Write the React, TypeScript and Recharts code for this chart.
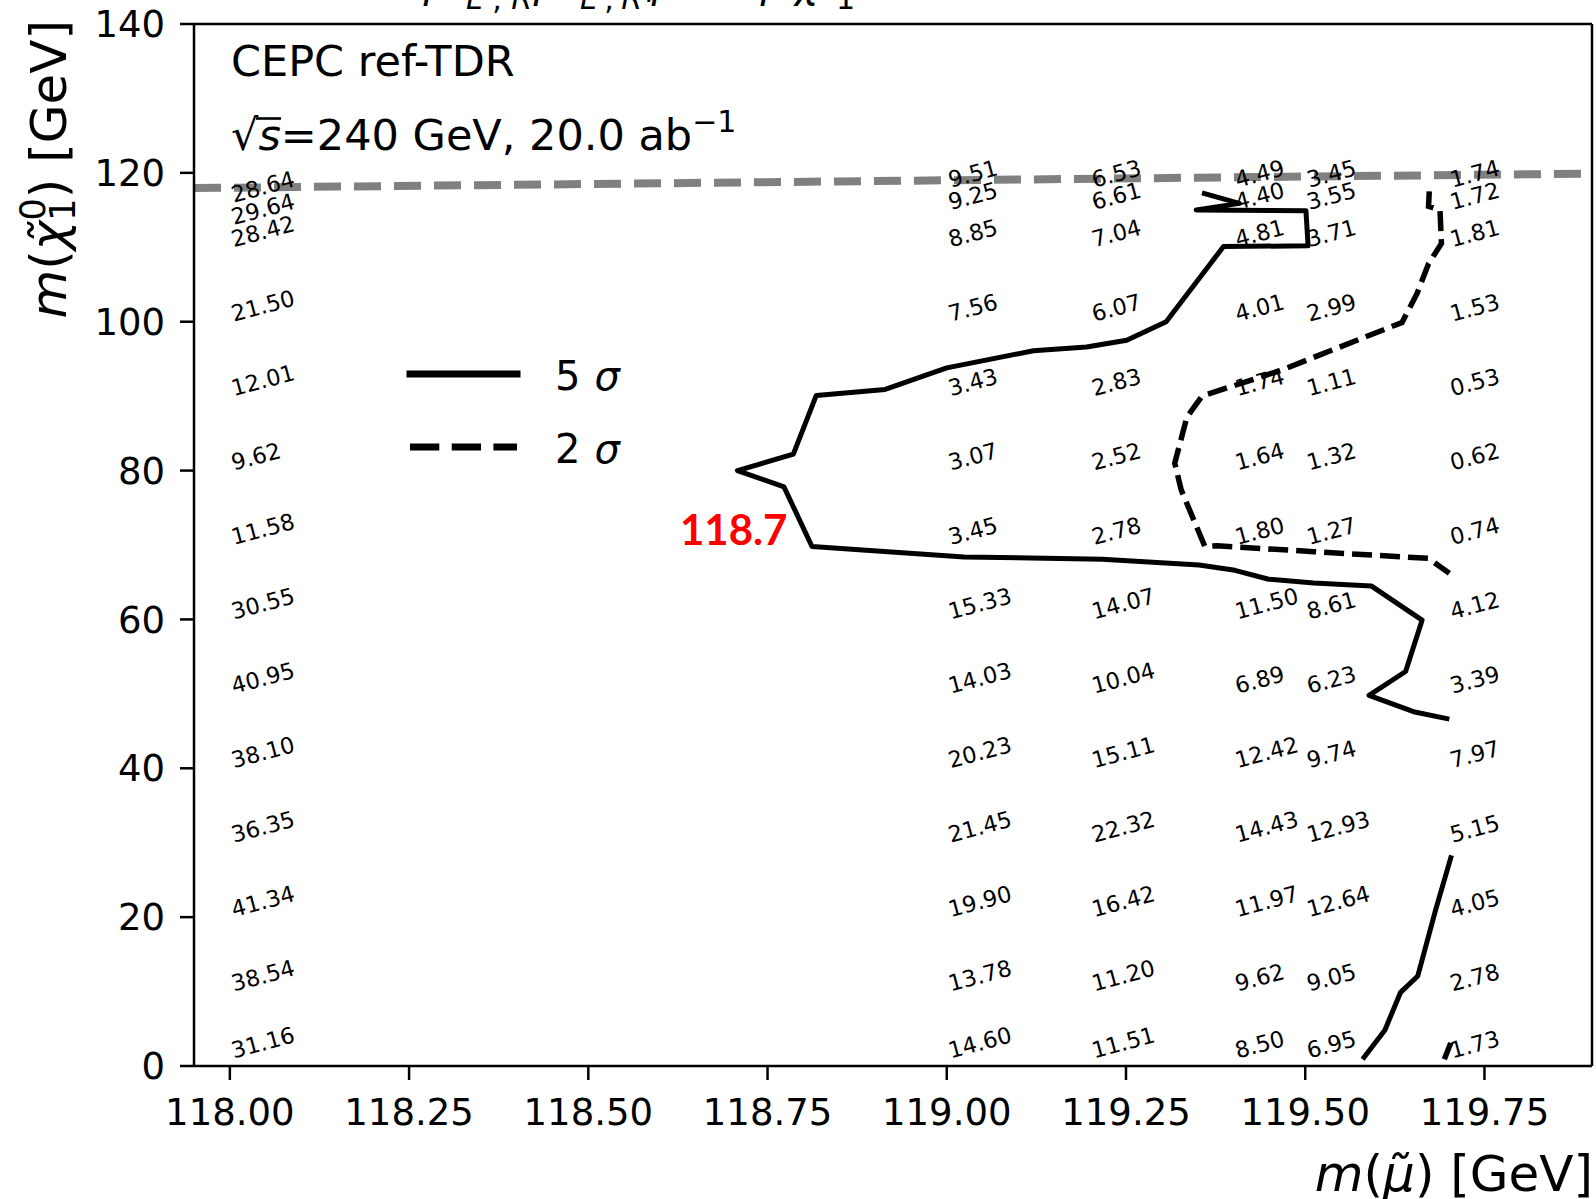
import {
  Customized,
  Legend,
  ReferenceLine,
  Scatter,
  ScatterChart,
  XAxis,
  YAxis,
} from "recharts";

const FONT = "'DejaVu Sans', sans-serif";

// smuon mass columns of the scan grid [GeV]
const M_SMUON = [118.0, 119.0, 119.2, 119.4, 119.5, 119.7];
// neutralino mass rows [GeV], bottom first; the 118 GeV column stops below the diagonal
const M_LSP = [1, 10, 20, 30, 40, 50, 60, 70, 80, 90, 100, 110, 115, 118];
const M_LSP_118 = [1, 10, 20, 30, 40, 50, 60, 70, 80, 90, 100, 110, 113, 116];

// expected significance per grid point, same row order as above
const SIG_1180 = [31.16, 38.54, 41.34, 36.35, 38.1, 40.95, 30.55, 11.58, 9.62, 12.01, 21.5, 28.42, 29.64, 28.64];
const SIG_1190 = [14.6, 13.78, 19.9, 21.45, 20.23, 14.03, 15.33, 3.45, 3.07, 3.43, 7.56, 8.85, 9.25, 9.51];
const SIG_1192 = [11.51, 11.2, 16.42, 22.32, 15.11, 10.04, 14.07, 2.78, 2.52, 2.83, 6.07, 7.04, 6.61, 6.53];
const SIG_1194 = [8.5, 9.62, 11.97, 14.43, 12.42, 6.89, 11.5, 1.8, 1.64, 1.74, 4.01, 4.81, 4.4, 4.49];
const SIG_1195 = [6.95, 9.05, 12.64, 12.93, 9.74, 6.23, 8.61, 1.27, 1.32, 1.11, 2.99, 3.71, 3.55, 3.45];
const SIG_1197 = [1.73, 2.78, 4.05, 5.15, 7.97, 3.39, 4.12, 0.74, 0.62, 0.53, 1.53, 1.81, 1.72, 1.74];

// 5 sigma contour, upper branch (from the kink near the diagonal down to 46 GeV)
const FIVE_SIGMA_UPPER: [number, number][] = [
  [119.356, 117.3], [119.408, 115.9], [119.348, 115.0], [119.501, 114.9],
  [119.504, 110.2], [119.386, 110.1], [119.306, 100.0], [119.251, 97.5],
  [119.195, 96.6], [119.121, 96.1], [119.0, 93.8], [118.914, 90.9],
  [118.818, 90.1], [118.786, 82.2], [118.708, 80.0], [118.773, 77.8],
  [118.812, 69.8], [119.024, 68.4], [119.217, 68.1], [119.352, 67.3],
  [119.402, 66.6], [119.449, 65.4], [119.512, 64.9], [119.592, 64.5],
  [119.663, 59.9], [119.64, 53.0], [119.589, 49.8], [119.651, 47.6],
  [119.701, 46.6],
];
// 5 sigma contour, low neutralino mass branch
const FIVE_SIGMA_LOWER: [number, number][] = [
  [119.58, 0.9], [119.611, 4.8], [119.633, 9.9], [119.657, 12.1],
  [119.682, 21.0], [119.704, 28.3],
];
// 2 sigma contour
const TWO_SIGMA_UPPER: [number, number][] = [
  [119.673, 117.5], [119.672, 115.5], [119.688, 115.0], [119.69, 110.5],
  [119.672, 107.8], [119.656, 103.8], [119.635, 99.9], [119.467, 93.5],
  [119.356, 90.0], [119.335, 87.2], [119.318, 81.0], [119.327, 77.4],
  [119.36, 69.8], [119.377, 69.9], [119.512, 69.1], [119.672, 68.2],
  [119.701, 66.2],
];
const TWO_SIGMA_LOWER: [number, number][] = [
  [119.694, 0.9], [119.703, 3.1],
];

const X_RANGE = [117.95, 119.9];
const Y_RANGE = [0, 140];
const X_TICKS = [118.0, 118.25, 118.5, 118.75, 119.0, 119.25, 119.5, 119.75];
const Y_TICKS = [0, 20, 40, 60, 80, 100, 120, 140];

// 5 sigma reach at the lowest smuon mass
const REACH_NOTE = [{ x: 118.7, y: 70, text: "118.7" }];

const LEGEND_ITEMS = [
  { n: "5", dash: undefined as string | undefined },
  { n: "2", dash: "29.3 12.4" },
];

const W = 1596;
const H = 1199;
const Y_AXIS_W = 80;
const X_AXIS_H = 70;
// plot frame: left 194, right 1592, top 24, bottom 1066
const MARGIN = { top: 24, right: 4, bottom: H - 1066 - X_AXIS_H, left: 194 - Y_AXIS_W };

const SIG_COLUMNS = [SIG_1180, SIG_1190, SIG_1192, SIG_1194, SIG_1195, SIG_1197];
const gridLabels = M_SMUON.flatMap((mx, ci) =>
  SIG_COLUMNS[ci].map((v, ri) => ({
    x: mx,
    y: ci === 0 ? M_LSP_118[ri] : M_LSP[ri],
    v,
  }))
);

const toPoints = (pts: [number, number][]) => pts.map(([x, y]) => ({ x, y }));

function ValueLabel(props: any) {
  const { cx, cy, payload } = props;
  const x = cx + 4;
  return (
    <text
      x={x}
      y={cy}
      transform={`rotate(-15, ${x}, ${cy})`}
      fontSize={22.5}
      fontFamily={FONT}
      fill="#000"
    >
      {payload.v.toFixed(2)}
    </text>
  );
}

function ReachLabel(props: any) {
  const { cx, cy, payload } = props;
  return (
    <text
      x={cx + 2}
      y={cy}
      textAnchor="middle"
      fontSize={42}
      fontWeight="bold"
      fontFamily="Lato, 'Liberation Sans', sans-serif"
      fill="#ff0000"
    >
      {payload.text}
    </text>
  );
}

const NoDot = () => <g />;

function LegendBox() {
  return (
    <svg width={250} height={150} style={{ display: "block" }}>
      {LEGEND_ITEMS.map((item, i) => {
        const y = 34 + i * 73;
        return (
          <g key={item.n}>
            <line
              x1={10}
              x2={117}
              y1={y}
              y2={y}
              stroke="#000"
              strokeWidth={7}
              strokeDasharray={item.dash}
              strokeLinecap={item.dash ? "butt" : "square"}
            />
            <text x={155} y={y + 16} fontSize={40} fontFamily={FONT} fill="#000">
              {item.n}
              <tspan dx={14} fontStyle="italic">
                σ
              </tspan>
            </text>
          </g>
        );
      })}
    </svg>
  );
}

function PlotText() {
  return (
    <g fontFamily={FONT} fill="#000">
      {/* process title, mostly above the frame */}
      <text fontSize={40} y={-3}>
        <tspan x={300}>e⁺e⁻ →</tspan>
        <tspan x={424} fontStyle="italic">μ̃</tspan>
        <tspan x={466} y={9} fontSize={30} textLength={66} lengthAdjust="spacing">
          <tspan fontStyle="italic">L</tspan>,<tspan fontStyle="italic">R</tspan>
        </tspan>
        <tspan x={534} y={-3} fontStyle="italic">μ̃</tspan>
        <tspan x={580} y={9} fontSize={30} textLength={62} lengthAdjust="spacing">
          <tspan fontStyle="italic">L</tspan>,<tspan fontStyle="italic">R</tspan>
        </tspan>
        <tspan x={644} y={-3}>,</tspan>
        <tspan x={652} fontStyle="italic">μ̃</tspan>
        <tspan x={692}>→</tspan>
        <tspan x={761} fontStyle="italic">μ</tspan>
        <tspan x={795} fontStyle="italic">χ̃</tspan>
        <tspan x={836} y={9} fontSize={30}>1</tspan>
        <tspan x={836} y={-24} fontSize={30}>0</tspan>
      </text>

      <text x={231} y={76} fontSize={43}>
        CEPC ref-TDR
      </text>
      <text x={231} y={150} fontSize={43}>
        √<tspan fontStyle="italic">s</tspan>=240 GeV, 20.0 ab
        <tspan dy={-18} fontSize={30}>
          −1
        </tspan>
      </text>
      {/* radical bar over s */}
      <line x1={256} x2={281} y1={118.5} y2={118.5} stroke="#000" strokeWidth={2.6} />

      {/* x axis title */}
      <text x={1593} y={1191} fontSize={50} textAnchor="end">
        <tspan fontStyle="italic">m</tspan>(<tspan fontStyle="italic">μ̃</tspan>) [GeV]
      </text>

      {/* y axis title, top aligned */}
      <g transform="translate(66, 20) rotate(-90)">
        <text x={0} y={0} fontSize={50} textAnchor="end">
          <tspan fontStyle="italic">m</tspan>(<tspan fontStyle="italic">χ̃</tspan>
          <tspan dy={9} fontSize={35}>
            1
          </tspan>
          <tspan dx={-22} dy={-30} fontSize={35}>
            0
          </tspan>
          <tspan dy={21}>) [GeV]</tspan>
        </text>
      </g>
    </g>
  );
}

export default function App() {
  const tickStyle = { fontSize: 37, fill: "#000", fontFamily: FONT };
  return (
    <div style={{ position: "absolute", left: 0, top: 0, width: W, height: H, background: "#fff" }}>
      <ScatterChart width={W} height={H} margin={MARGIN}>
        <XAxis
          type="number"
          dataKey="x"
          domain={X_RANGE}
          ticks={X_TICKS}
          allowDataOverflow
          height={X_AXIS_H}
          tickFormatter={(v: number) => v.toFixed(2)}
          tick={tickStyle}
          tickSize={14}
          tickMargin={19}
          axisLine={{ stroke: "#000", strokeWidth: 2.5 }}
          tickLine={{ stroke: "#000", strokeWidth: 2.5 }}
          interval={0}
        />
        <YAxis
          type="number"
          dataKey="y"
          domain={Y_RANGE}
          ticks={Y_TICKS}
          allowDataOverflow
          width={Y_AXIS_W}
          tick={tickStyle}
          tickSize={14}
          tickMargin={15}
          axisLine={{ stroke: "#000", strokeWidth: 2.5 }}
          tickLine={{ stroke: "#000", strokeWidth: 2.5 }}
          interval={0}
        />
        <ReferenceLine y={Y_RANGE[1]} stroke="#000" strokeWidth={2.5} />
        <ReferenceLine x={X_RANGE[1]} stroke="#000" strokeWidth={2.5} />
        <ReferenceLine
          segment={[
            { x: X_RANGE[0], y: X_RANGE[0] },
            { x: X_RANGE[1], y: X_RANGE[1] },
          ]}
          stroke="#808080"
          strokeWidth={8}
          strokeDasharray="27 13"
        />
        <Scatter
          name="5 σ"
          data={toPoints(FIVE_SIGMA_UPPER)}
          line={{ stroke: "#000", strokeWidth: 5, strokeLinejoin: "round" }}
          shape={NoDot}
          legendType="none"
          isAnimationActive={false}
        />
        <Scatter
          name="5 σ low"
          data={toPoints(FIVE_SIGMA_LOWER)}
          line={{ stroke: "#000", strokeWidth: 5, strokeLinejoin: "round" }}
          shape={NoDot}
          legendType="none"
          isAnimationActive={false}
        />
        <Scatter
          name="2 σ"
          data={toPoints(TWO_SIGMA_UPPER)}
          line={{ stroke: "#000", strokeWidth: 5.5, strokeDasharray: "20 8" }}
          shape={NoDot}
          legendType="none"
          isAnimationActive={false}
        />
        <Scatter
          name="2 σ low"
          data={toPoints(TWO_SIGMA_LOWER)}
          line={{ stroke: "#000", strokeWidth: 5.5, strokeDasharray: "20 8" }}
          shape={NoDot}
          legendType="none"
          isAnimationActive={false}
        />
        <Scatter
          name="significance"
          data={gridLabels}
          shape={ValueLabel}
          legendType="none"
          isAnimationActive={false}
        />
        <Scatter
          name="reach"
          data={REACH_NOTE}
          shape={ReachLabel}
          legendType="none"
          isAnimationActive={false}
        />
        <Legend
          layout="horizontal"
          verticalAlign="middle"
          align="center"
          content={() => <LegendBox />}
          wrapperStyle={{ left: 400, top: 340, width: 250, height: 150 }}
        />
        <Customized component={PlotText} />
      </ScatterChart>
    </div>
  );
}
